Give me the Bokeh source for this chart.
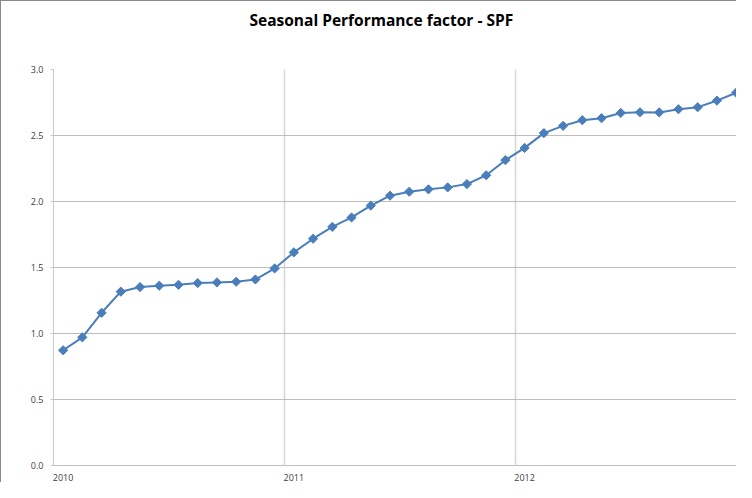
import numpy as np
from bokeh.plotting import figure
from bokeh.models import Range1d, FixedTicker, ColumnDataSource, Title
from bokeh.embed import file_html
from bokeh.resources import INLINE

# ---- data ----
years = ["2010", "2011", "2012"]
month_index = list(range(36))
spf = [0.873, 0.971, 1.157, 1.317, 1.352, 1.362, 1.369, 1.382, 1.387, 1.392, 1.409, 1.493,
       1.615, 1.718, 1.808, 1.879, 1.969, 2.044, 2.074, 2.092, 2.107, 2.132, 2.199, 2.313,
       2.406, 2.518, 2.573, 2.616, 2.631, 2.671, 2.676, 2.675, 2.699, 2.714, 2.764, 2.824]
y_ticks = [0.0, 0.5, 1.0, 1.5, 2.0, 2.5, 3.0]
title_text = "Seasonal Performance factor - SPF"

src = ColumnDataSource(dict(x=month_index, y=spf))

p = figure(width=736, height=482, output_backend="svg", toolbar_location=None,
           x_range=Range1d(-0.5, 35.07), y_range=Range1d(0, 3.0),
           min_border_left=52, min_border_right=0, min_border_top=68, min_border_bottom=15)

# main title
p.title.text = title_text
p.title.text_font = "Open Sans"
p.title.text_font_style = "bold"
p.title.text_font_size = "15.5px"
p.title.text_color = "#000000"
p.title.align = "left"
p.title.offset = 196
p.title.vertical_align = "top"
p.title.standoff = 0

# spacer between title and plot area
spacer = Title(text=" ", text_font_size="1px", standoff=34)
p.add_layout(spacer, "above")

p.background_fill_color = "white"
p.border_fill_color = "white"
p.outline_line_color = None
p.styles = {"border-left": "1px solid #8a8a8a", "border-top": "1px solid #8a8a8a"}

# y axis
p.yaxis.ticker = FixedTicker(ticks=y_ticks)
p.yaxis.major_label_overrides = {t: f"{t:.1f}" for t in y_ticks}
p.yaxis.axis_line_color = "#c8c8c8"
p.yaxis.major_tick_line_color = "#c8c8c8"
p.yaxis.major_tick_out = 3
p.yaxis.major_tick_in = 0
p.yaxis.minor_tick_line_color = None
p.yaxis.major_label_standoff = 7
p.yaxis.major_label_text_font = "Open Sans"
p.yaxis.major_label_text_font_size = "9px"
p.yaxis.major_label_text_color = "#404040"

# x axis
x_label_pos = [0, 12, 24]
p.xaxis.ticker = FixedTicker(ticks=x_label_pos)
p.xaxis.major_label_overrides = {pos: yr for pos, yr in zip(x_label_pos, years)}
p.xaxis.axis_line_color = "#bfbfbf"
p.xaxis.major_tick_line_color = None
p.xaxis.minor_tick_line_color = None
p.xaxis.major_label_standoff = 2
p.xaxis.major_label_text_font = "Open Sans"
p.xaxis.major_label_text_font_size = "9px"
p.xaxis.major_label_text_color = "#404040"

# grids
p.ygrid.ticker = FixedTicker(ticks=y_ticks)
p.ygrid.grid_line_color = "#bdbdbd"
p.xgrid.ticker = FixedTicker(ticks=[-0.5, 11.5, 23.5, 35.5])
p.xgrid.grid_line_color = "#d6d6d6"
p.xgrid.grid_line_width = 1.5

# series
p.line("x", "y", source=src, line_color="#4A7EBB", line_width=2)
p.scatter("x", "y", source=src, marker="square", angle=np.pi / 4, size=6.5,
          fill_color="#4A7EBB", line_color="#4A7EBB")

open("out.html", "w").write(file_html(p, INLINE))
